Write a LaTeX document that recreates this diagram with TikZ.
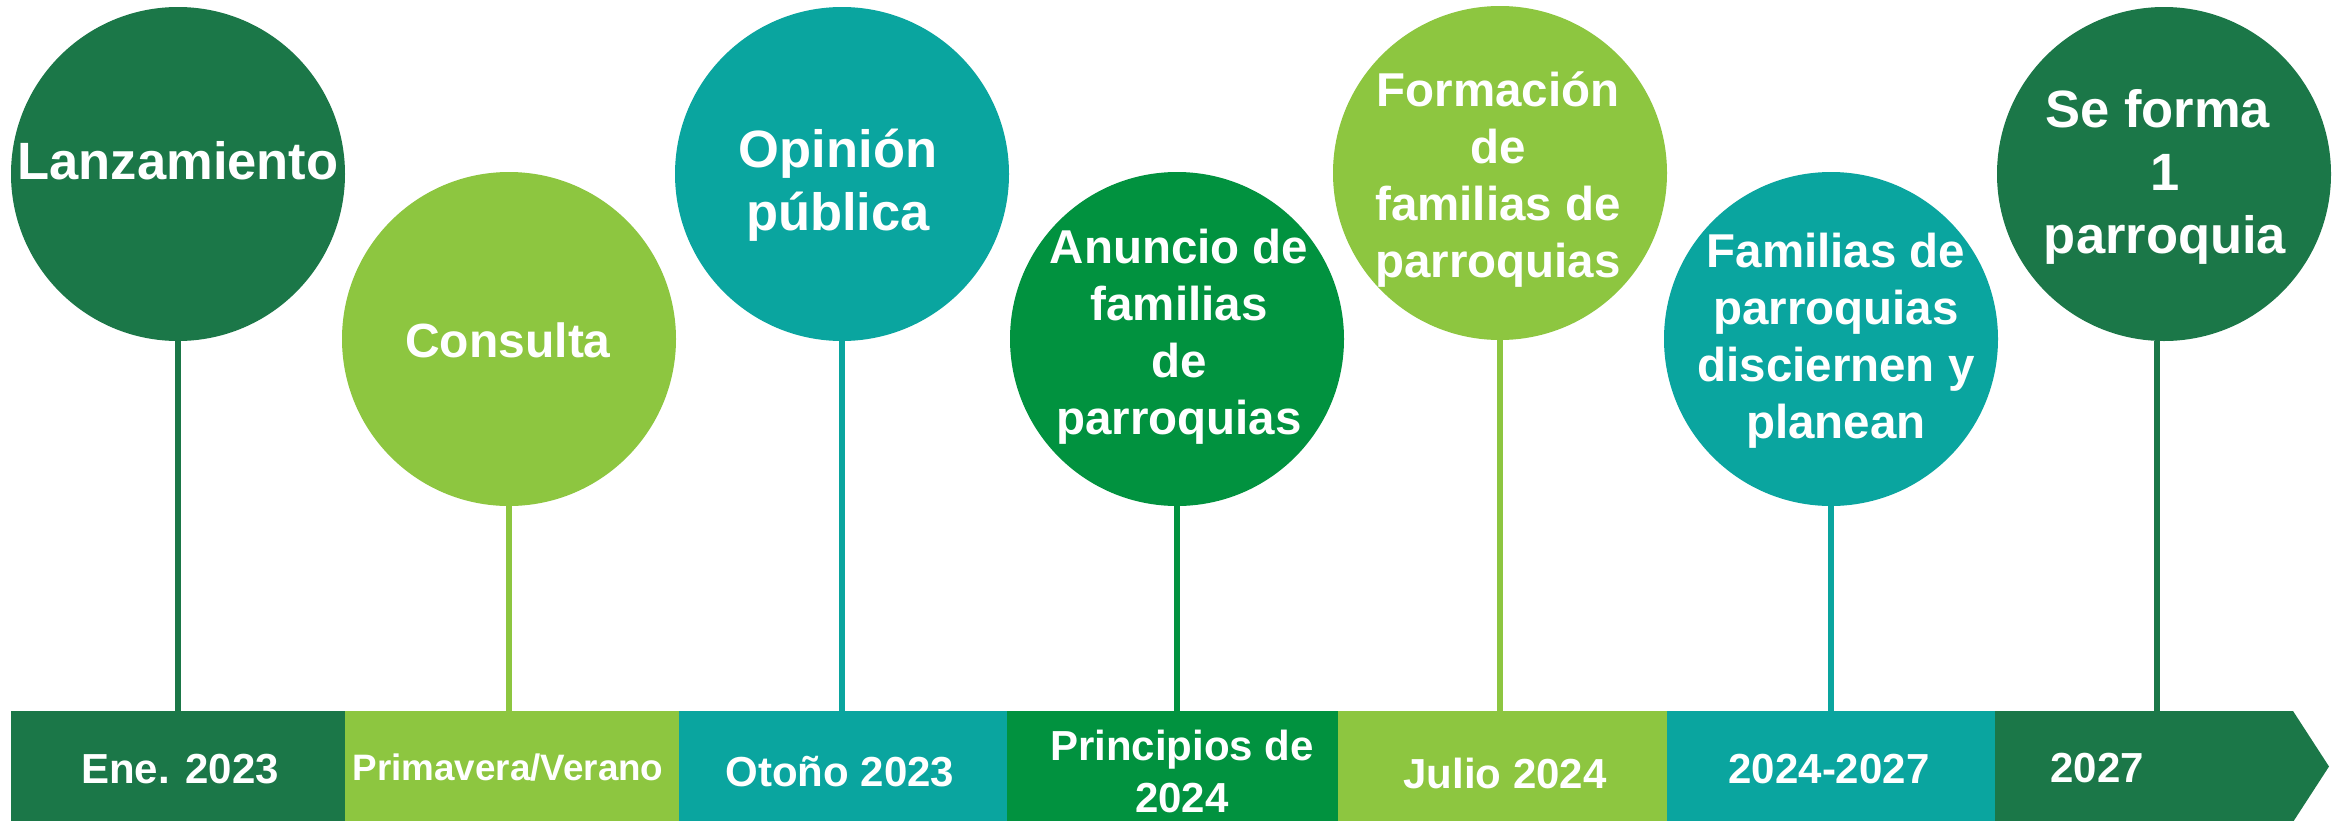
\documentclass[tikz,border=0pt]{standalone}
\usepackage{fontspec}
\setmainfont{Liberation Sans}
\definecolor{dkgreen}{HTML}{1B7748}
\definecolor{ltgreen}{HTML}{8DC640}
\definecolor{tealc}{HTML}{0AA59F}
\definecolor{midgreen}{HTML}{01923F}
\begin{document}
\begin{tikzpicture}[x=1pt,y=-1pt,
  circ/.style={circle, inner sep=0pt, minimum size=334pt, draw=none},
  ctext/.style={text=white, align=center, inner sep=0pt, font=\bfseries\fontsize{47.5}{57}\selectfont},
  ctextbig/.style={ctext, font=\bfseries\fontsize{52.5}{63}\selectfont},
  seg/.style={rectangle, inner sep=0pt, minimum height=111pt, draw=none},
  stem/.style={line width=6pt},
  btext/.style={text=white, inner sep=0pt, font=\bfseries\fontsize{42}{52}\selectfont}]
\useasboundingbox (0,0) rectangle (2346,820);
\fill[white] (0,0) rectangle (2346,820);

% bar segments
\node[seg, fill=dkgreen,  minimum width=334pt] (b1) at (178,766.5) {};
\node[seg, fill=ltgreen,  minimum width=334pt] (b2) at (512,766.5) {};
\node[seg, fill=tealc,    minimum width=328pt] (b3) at (843,766.5) {};
\node[seg, fill=midgreen, minimum width=331pt] (b4) at (1172.5,766.5) {};
\node[seg, fill=ltgreen,  minimum width=329pt] (b5) at (1502.5,766.5) {};
\node[seg, fill=tealc,    minimum width=329pt] (b6) at (1831.5,766.5) {};
\fill[dkgreen] (1995,711) -- (2293,711) -- (2329,766.5) -- (2293,822) -- (1995,822) -- cycle;
\coordinate (b7top) at (2157,711);

% circles
\node[circ, fill=dkgreen]  (c1) at (178,174) {};
\node[circ, fill=ltgreen]  (c2) at (509,339) {};
\node[circ, fill=tealc]    (c3) at (842,174) {};
\node[circ, fill=midgreen] (c4) at (1177,339) {};
\node[circ, fill=ltgreen]  (c5) at (1500,173) {};
\node[circ, fill=tealc]    (c6) at (1831,339) {};
\node[circ, fill=dkgreen]  (c7) at (2164,174) {};

% stems
\draw[stem, dkgreen]  (c1.south) -- (c1.south |- b1.north);
\draw[stem, ltgreen]  (c2.south) -- (c2.south |- b2.north);
\draw[stem, tealc]    (c3.south) -- (c3.south |- b3.north);
\draw[stem, midgreen] (c4.south) -- (c4.south |- b4.north);
\draw[stem, ltgreen]  (c5.south) -- (c5.south |- b5.north);
\draw[stem, tealc]    (c6.south) -- (c6.south |- b6.north);
\draw[stem, dkgreen]  (c7.south -| b7top) -- (b7top);

% circle texts
\node[ctextbig] (t1) at (178,161) {Lanzamiento};
\node[ctext, font=\bfseries\fontsize{48}{57}\selectfont] (t2) at (508,340) {Consulta};
\node[ctextbig] (t3) at (838,185) {Opinión\\pública};
\node[ctext] (t4) at (1179,336.5) {Anuncio de\\familias\\de\\parroquias};
\node[ctext] (t5) at (1498,180) {Formación\\de\\familias de\\parroquias};
\node[ctext] (t6) at (1836,340.5) {Familias de\\parroquias\\disciernen y\\planean};
\node[ctextbig] (t7) at (2165,176.5) {Se forma\hphantom{\ }\\1\\parroquia};

% bar texts
\node[btext, anchor=base] (l1) at (180,783) {Ene. 2023};
\node[btext, anchor=base, font=\bfseries\fontsize{36.8}{44}\selectfont] (l2) at (508,780) {Primavera/Verano};
\node[btext, anchor=base] (l3) at (840,786) {Otoño 2023};
\node[btext, align=center] (l4) at (1182,771) {Principios de\\2024};
\node[btext, anchor=base] (l5) at (1505,788) {Julio 2024};
\node[btext, anchor=base] (l6) at (1829,783) {2024-2027};
\node[btext, anchor=base] (l7) at (2097,782) {2027};
\end{tikzpicture}
\end{document}
